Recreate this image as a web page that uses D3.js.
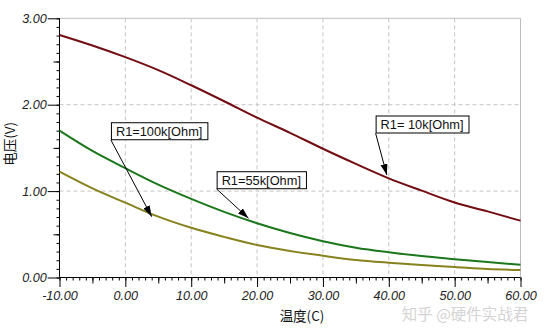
<!DOCTYPE html>
<html>
<head>
<meta charset="utf-8">
<script src="https://cdn.jsdelivr.net/npm/d3@7/dist/d3.min.js"></script>
<style>
  html, body { margin: 0; padding: 0; background: #fff; }
  svg { display: block; }
  .ann { font-family: "Liberation Sans", Arial, sans-serif; font-size: 12.8px; fill: #111; }
  .title { font-family: "Noto Sans CJK SC", "Liberation Sans", sans-serif; font-size: 13.5px; fill: #111; }
</style>
</head>
<body>
<svg id="chart" width="546" height="335"></svg>
<script>
// Temperature sweep (°C) and output voltage (V) for three R1 values
const temps = [-10, -5, 0, 5, 10, 15, 20, 25, 30, 35, 40, 45, 50, 55, 60];
const v10k  = [2.807, 2.685, 2.55, 2.40, 2.225, 2.04, 1.85, 1.675, 1.49, 1.315, 1.148, 1.005, 0.868, 0.765, 0.657];
const v55k  = [1.70, 1.465, 1.265, 1.075, 0.91, 0.76, 0.628, 0.515, 0.42, 0.345, 0.292, 0.248, 0.212, 0.178, 0.148];
const v100k = [1.225, 1.032, 0.866, 0.704, 0.575, 0.47, 0.376, 0.307, 0.252, 0.203, 0.171, 0.145, 0.122, 0.098, 0.087];

const xTicks = [-10, 0, 10, 20, 30, 40, 50, 60];
const yTicks = [0, 1, 2, 3];

const seriesNames = ["R1= 10k[Ohm]", "R1=55k[Ohm]", "R1=100k[Ohm]"];
const seriesColors = ["#720d12", "#1c771c", "#86821e"];
// arrow tip (temp, volt) and label box bottom-left corner (temp, volt)
const tipT = [39.7, 18.7, 4.0];
const tipV = [1.186, 0.685, 0.704];
const boxT = [38.0, 13.86, -2.19];
const boxV = [1.669, 1.024, 1.591];

const svg = d3.select("#chart");
const x = d3.scaleLinear().domain([-10, 60]).range([59.5, 520.5]);
const y = d3.scaleLinear().domain([0, 3]).range([277.5, 18.3]);

// grid
const grid = svg.append("g");
grid.selectAll("line.gx").data(xTicks.slice(1, -1)).join("line")
  .attr("x1", d => x(d)).attr("x2", d => x(d))
  .attr("y1", y(3)).attr("y2", y(0))
  .attr("stroke", "#c4c4c4").attr("stroke-dasharray", "4,3").attr("stroke-width", 1);
grid.selectAll("line.gy").data(yTicks.slice(1, -1)).join("line")
  .attr("x1", x(-10)).attr("x2", x(60))
  .attr("y1", d => y(d)).attr("y2", d => y(d))
  .attr("stroke", "#c4c4c4").attr("stroke-dasharray", "4,3").attr("stroke-width", 1);
// top and right frame
grid.append("line").attr("x1", x(-10)).attr("x2", x(60)).attr("y1", y(3)).attr("y2", y(3))
  .attr("stroke", "#bdbdbd");
grid.append("line").attr("x1", x(60)).attr("x2", x(60)).attr("y1", y(3)).attr("y2", y(0))
  .attr("stroke", "#bdbdbd");

// axes: minor, medium and major ticks
const fmt = d => d3.format(".2f")(d).replace("\u2212", "-");
function addAxis(gen, transform, values, size, labels) {
  const g = svg.append("g").attr("transform", transform)
    .call(gen.tickValues(values).tickSize(size).tickPadding(1)
      .tickFormat(labels ? fmt : () => ""));
  g.select(".domain").remove();
  g.selectAll(".tick line").attr("stroke", "#000");
  g.selectAll(".tick text")
    .attr("fill", "#222")
    .attr("font-family", "'Liberation Sans', Arial, sans-serif")
    .attr("font-size", 12.6)
    .attr("font-style", "italic")
    .style("font-style", "italic");
  return g;
}
const xMinor = d3.range(-10, 60.001, 1), xMid = d3.range(-5, 60, 10);
const yMinor = d3.range(0, 3.001, 0.1), yMid = d3.range(0.5, 3, 1);
addAxis(d3.axisBottom(x), `translate(0,${y(0)})`, xMinor, 3, false);
addAxis(d3.axisBottom(x), `translate(0,${y(0)})`, xMid, 6, false);
const xa = addAxis(d3.axisBottom(x), `translate(0,${y(0)})`, xTicks, 9.5, true);
xa.selectAll(".tick text").attr("dy", "0.71em").attr("y", 14);
addAxis(d3.axisLeft(y), `translate(${x(-10)},0)`, yMinor, 3, false);
addAxis(d3.axisLeft(y), `translate(${x(-10)},0)`, yMid, 6, false);
addAxis(d3.axisLeft(y), `translate(${x(-10)},0)`, yTicks, 11.8, true);
svg.append("line").attr("x1", x(-10)).attr("x2", x(60)).attr("y1", y(0)).attr("y2", y(0)).attr("stroke", "#000");
svg.append("line").attr("x1", x(-10)).attr("x2", x(-10)).attr("y1", y(3)).attr("y2", y(0)).attr("stroke", "#000");

// curves
const line = d3.line().x((d, i) => x(temps[i])).y(d => y(d)).curve(d3.curveMonotoneX);
[v10k, v55k, v100k].forEach((vals, i) => {
  svg.append("path").attr("d", line(vals)).attr("fill", "none")
    .attr("stroke", seriesColors[i]).attr("stroke-width", 2);
});

// annotations
svg.append("defs").append("marker").attr("id", "arrow")
  .attr("markerUnits", "userSpaceOnUse").attr("markerWidth", 12).attr("markerHeight", 8)
  .attr("refX", 11).attr("refY", 3.5).attr("orient", "auto")
  .append("path").attr("d", "M0,0 L11,3.5 L0,7 Z").attr("fill", "#000");

seriesNames.forEach((name, i) => {
  const bx = x(boxT[i]), by = y(boxV[i]);
  svg.append("line").attr("x1", bx).attr("y1", by).attr("x2", x(tipT[i])).attr("y2", y(tipV[i]))
    .attr("stroke", "#000").attr("stroke-width", 1).attr("marker-end", "url(#arrow)");
  const g = svg.append("g");
  const t = g.append("text").attr("class", "ann").attr("x", bx + 5).attr("y", by - 4.3).text(name);
  const w = t.node().getComputedTextLength();
  g.insert("rect", "text").attr("x", bx + 0.5).attr("y", by - 17.3)
    .attr("width", w + 10).attr("height", 17)
    .attr("fill", "#fff").attr("stroke", "#000").attr("stroke-width", 1);
});

// axis titles
svg.append("text").attr("class", "title")
  .attr("transform", `translate(15,${(y(0) + y(3)) / 2 - 4}) rotate(-90)`)
  .attr("text-anchor", "middle").text("电压(V)");
svg.append("text").attr("class", "title").attr("x", 302).attr("y", 321)
  .attr("text-anchor", "middle").attr("font-size", 14).text("温度(C)");

// watermark
svg.append("text").attr("x", 465).attr("y", 320).attr("text-anchor", "middle")
  .attr("font-family", "'Noto Sans CJK SC', sans-serif").attr("font-size", 15.5)
  .attr("fill", "#d4d4d4").text("知乎 @硬件实战君");
</script>
</body>
</html>
